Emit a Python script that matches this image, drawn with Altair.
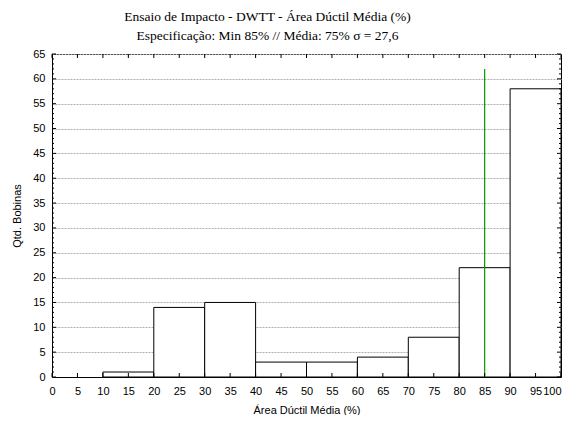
import altair as alt
import pandas as pd

bin_start = [10, 20, 30, 40, 50, 60, 70, 80, 90]
bin_end = [20, 30, 40, 50, 60, 70, 80, 90, 100]
counts = [1, 14, 15, 3, 3, 4, 8, 22, 58]
spec_min = 85
spec_top = 62
x_ticks = list(range(0, 101, 5))
y_ticks = list(range(0, 66, 5))
y_minor = [v for v in range(0, 66) if v % 5 != 0]

W, H = 509, 323

bars_df = pd.DataFrame({"start": bin_start, "end": bin_end, "count": counts,
                        "base": [0] * len(counts)})
spec_df = pd.DataFrame({"start": [spec_min], "count": [spec_top], "base": [0]})
xt_df = pd.DataFrame({"start": x_ticks})
yM_df = pd.DataFrame({"count": y_ticks})
ym_df = pd.DataFrame({"count": y_minor})

xscale = alt.Scale(domain=[0, 100], nice=False, zero=False)
yscale = alt.Scale(domain=[0, 65], nice=False)

xenc = alt.X("start:Q", scale=xscale,
             axis=alt.Axis(values=x_ticks, title="Área Dúctil Média (%)", grid=False,
                           ticks=False, labelPadding=8, titlePadding=8,
                           labelAlign={"condition": {"test": "datum.value >= 100", "value": "right"},
                                       "value": "center"},
                           labelFlush=False, labelOverlap=False, labelBound=False))
yenc = alt.Y("count:Q", scale=yscale,
             axis=alt.Axis(values=y_ticks, title="Qtd. Bobinas", grid=True,
                           gridDash=[2, 1], gridColor="#b0b0b0", ticks=False,
                           labelPadding=7, titlePadding=10))

bars = alt.Chart(bars_df).mark_rect(fill="white", stroke="black", strokeWidth=1).encode(
    x=xenc, x2="end:Q", y=yenc, y2="base:Q")

spec_line = alt.Chart(spec_df).mark_rule(color="#009a00", strokeWidth=1.2).encode(
    x=xenc, y=yenc, y2="base:Q")

bot_ticks = alt.Chart(xt_df).mark_rule(color="black").encode(
    x=xenc, y=alt.value(H - 4), y2=alt.value(H))
top_ticks = alt.Chart(xt_df).mark_rule(color="black").encode(
    x=xenc, y=alt.value(0), y2=alt.value(4))
left_major = alt.Chart(yM_df).mark_rule(color="black").encode(
    y=yenc, x=alt.value(0), x2=alt.value(4))
left_minor = alt.Chart(ym_df).mark_rule(color="black").encode(
    y=yenc, x=alt.value(0), x2=alt.value(2))
right_major = alt.Chart(yM_df).mark_rule(color="black").encode(
    y=yenc, x=alt.value(W - 4), x2=alt.value(W))
right_minor = alt.Chart(ym_df).mark_rule(color="black").encode(
    y=yenc, x=alt.value(W - 2), x2=alt.value(W))

serif = "Liberation Serif, Times New Roman, DejaVu Serif, serif"
sans = "Liberation Sans, Arial, sans-serif"

chart = alt.layer(bars, spec_line, bot_ticks, top_ticks, left_major, left_minor,
                  right_major, right_minor).properties(
    width=W, height=H,
    title=alt.TitleParams(
        text="Ensaio de Impacto - DWTT - Área Dúctil Média (%)",
        subtitle="Especificação: Min 85% // Média: 75%  σ = 27,6",
        font=serif, fontSize=13.5, fontWeight="normal", color="black",
        subtitleFont=serif, subtitleFontSize=13.5, subtitleColor="black",
        subtitlePadding=5, anchor="middle", dx=-39, offset=6),
    autosize=alt.AutoSizeParams(type="none"),
    padding={"left": 44, "top": 46, "right": 1, "bottom": 38},
).configure_view(stroke="black", strokeWidth=1).configure_axis(
    domainColor="black", labelColor="black", titleColor="black",
    labelFont=sans, titleFont=sans,
    labelFontSize=11, titleFontSize=11, titleFontWeight="normal",
)

chart.save("out.html", embed_options={"renderer": "svg", "actions": False})
